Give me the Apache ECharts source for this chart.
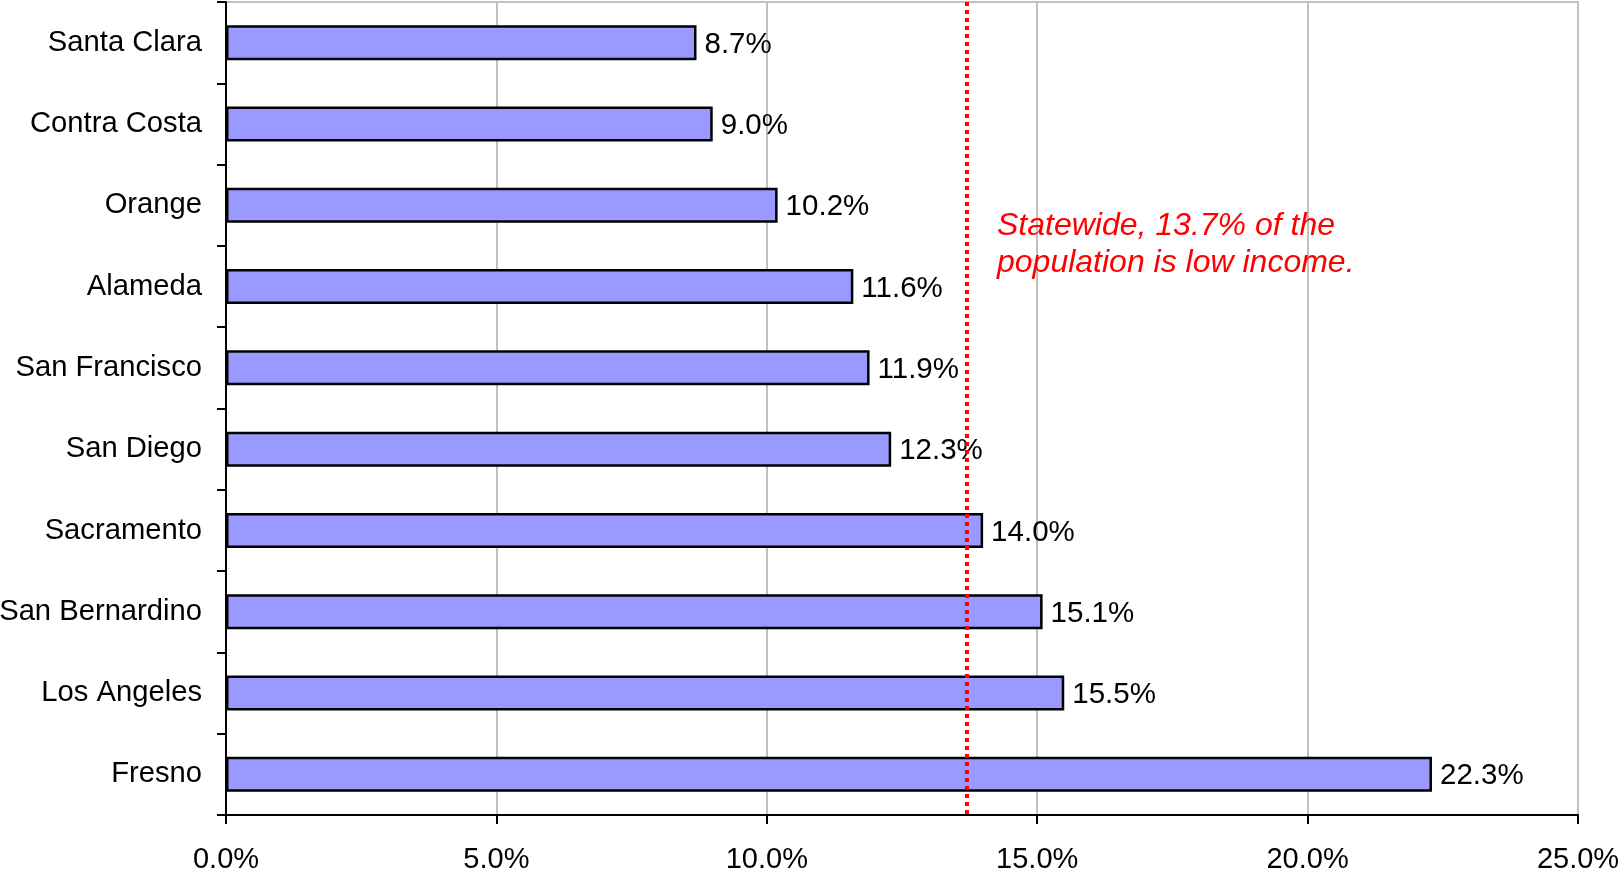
<!DOCTYPE html>
<html>
<head>
<meta charset="utf-8">
<style>
  html, body { margin: 0; padding: 0; background: #fff; }
  #chart { width: 1619px; height: 878px; }
</style>
<script src="https://cdn.jsdelivr.net/npm/echarts@6/dist/echarts.min.js"></script>
</head>
<body>
<div id="chart"></div>
<script>
// Share of population that is low income, by county
const counties = ['Santa Clara', 'Contra Costa', 'Orange', 'Alameda', 'San Francisco',
                  'San Diego', 'Sacramento', 'San Bernardino', 'Los Angeles', 'Fresno'];
const lowIncomeShare = [8.7, 9.0, 10.2, 11.6, 11.9, 12.3, 14.0, 15.1, 15.5, 22.3];
const statewideShare = 13.7;
const noteLines = ['Statewide, 13.7% of the', 'population is low income.'];

const pct = v => Number(v).toFixed(1) + '%';
const font = '"Liberation Sans", Arial, sans-serif';

const chart = echarts.init(document.getElementById('chart'));
chart.setOption({
  animation: false,
  grid: {
    left: 226, right: 41, top: 2, bottom: 63,
    containLabel: false, outerBoundsMode: 'none',
    show: true, borderColor: '#c0c0c0', borderWidth: 2, backgroundColor: 'transparent'
  },
  xAxis: {
    type: 'value', min: 0, max: 25, interval: 5,
    axisLine: { show: true, lineStyle: { color: '#000', width: 2 } },
    axisTick: { show: true, length: 9, lineStyle: { color: '#000', width: 2 } },
    axisLabel: { formatter: pct, color: '#000', fontSize: 29, fontFamily: font, margin: 30 },
    splitLine: { show: true, lineStyle: { color: '#c0c0c0', width: 2 } }
  },
  yAxis: {
    type: 'category', data: counties, inverse: true,
    axisLine: { show: true, lineStyle: { color: '#000', width: 2 } },
    axisTick: { show: true, length: 9, lineStyle: { color: '#000', width: 2 } },
    axisLabel: { color: '#000', fontSize: 29.2, fontFamily: font, margin: 24 },
    splitLine: { show: false }
  },
  series: [{
    type: 'bar',
    data: lowIncomeShare,
    barWidth: 35,
    itemStyle: { color: '#9999ff', borderColor: '#000', borderWidth: 2.5 },
    label: {
      show: true, position: 'right', distance: 8, formatter: p => pct(p.value),
      color: '#000', fontSize: 29.5, fontFamily: font, offset: [0, 2]
    },
    markLine: {
      silent: true, symbol: 'none',
      label: { show: false },
      lineStyle: { color: '#ff0000', width: 4, type: [4, 4], opacity: 1 },
      data: [{ xAxis: statewideShare }]
    },
    z: 2
  }],
  graphic: [{
    type: 'text', left: 997, top: 208, z: 10,
    style: {
      text: noteLines.join('\n'), fill: '#ff0000',
      font: 'italic 32px ' + font, lineHeight: 37
    }
  }]
});
</script>
</body>
</html>
